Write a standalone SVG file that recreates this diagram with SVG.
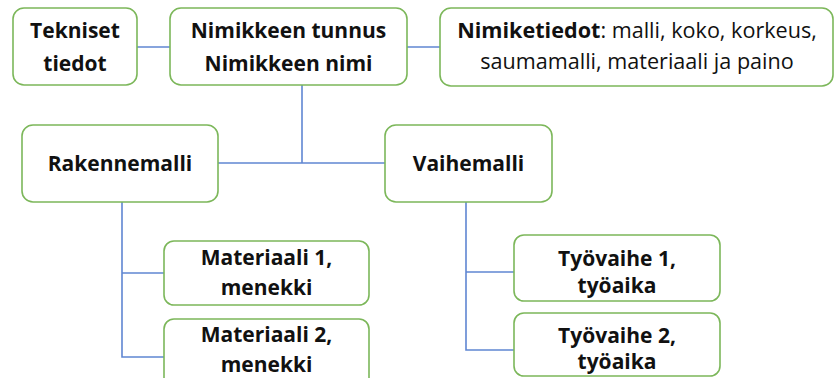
<svg xmlns="http://www.w3.org/2000/svg" width="837" height="378" viewBox="0 0 837 378">
<style>
.box{fill:#ffffff;stroke:#7cb75a;stroke-width:1.6}
.ln{fill:none;stroke:#5f86d2;stroke-width:1.6}
text{font-family:"Open Sans","Liberation Sans",sans-serif;font-size:21px;fill:#111;text-anchor:middle}
.b{font-weight:bold}
.s{font-size:21.6px}
</style>
<rect width="837" height="378" fill="#ffffff"/>
<g id="connectors">
<path class="ln" d="M137,47 H170"/>
<path class="ln" d="M407,47 H440"/>
<path class="ln" d="M302,85 V163"/>
<path class="ln" d="M218,163 H385"/>
<path class="ln" d="M122,202 V357 H164"/>
<path class="ln" d="M122,273 H164"/>
<path class="ln" d="M466,202 V350 H514"/>
<path class="ln" d="M466,272 H514"/>
</g>
<g id="tekniset">
<rect class="box" x="13" y="8" width="124" height="77" rx="11"/>
<text class="b" x="75" y="38">Tekniset</text>
<text class="b" x="75" y="71">tiedot</text>
</g>
<g id="nimike">
<rect class="box" x="170" y="8" width="237" height="77" rx="11"/>
<text class="b" x="288.5" y="38">Nimikkeen tunnus</text>
<text class="b" x="288.5" y="71">Nimikkeen nimi</text>
</g>
<g id="nimiketiedot">
<rect class="box" x="440" y="8" width="393" height="78" rx="11"/>
<text class="s" x="637" y="37.5"><tspan class="b">Nimiketiedot</tspan>: malli, koko, korkeus,</text>
<text class="s" x="637" y="69">saumamalli, materiaali ja paino</text>
</g>
<g id="rakennemalli">
<rect class="box" x="22" y="125" width="196" height="77" rx="11"/>
<text class="b" x="120" y="171">Rakennemalli</text>
</g>
<g id="vaihemalli">
<rect class="box" x="385" y="125" width="167" height="77" rx="11"/>
<text class="b" x="468.5" y="171">Vaihemalli</text>
</g>
<g id="materiaali1">
<rect class="box" x="164" y="241" width="205" height="64" rx="10"/>
<text class="b" x="266.5" y="265">Materiaali 1,</text>
<text class="b" x="266.5" y="295">menekki</text>
</g>
<g id="materiaali2">
<rect class="box" x="164" y="319" width="205" height="70" rx="10"/>
<text class="b" x="266.5" y="342">Materiaali 2,</text>
<text class="b" x="266.5" y="372">menekki</text>
</g>
<g id="tyovaihe1">
<rect class="box" x="514" y="235" width="206" height="66" rx="10"/>
<text class="b" x="617" y="266">Työvaihe 1,</text>
<text class="b" x="617" y="293">työaika</text>
</g>
<g id="tyovaihe2">
<rect class="box" x="514" y="313" width="206" height="63" rx="10"/>
<text class="b" x="617" y="343">Työvaihe 2,</text>
<text class="b" x="617" y="369">työaika</text>
</g>
</svg>
